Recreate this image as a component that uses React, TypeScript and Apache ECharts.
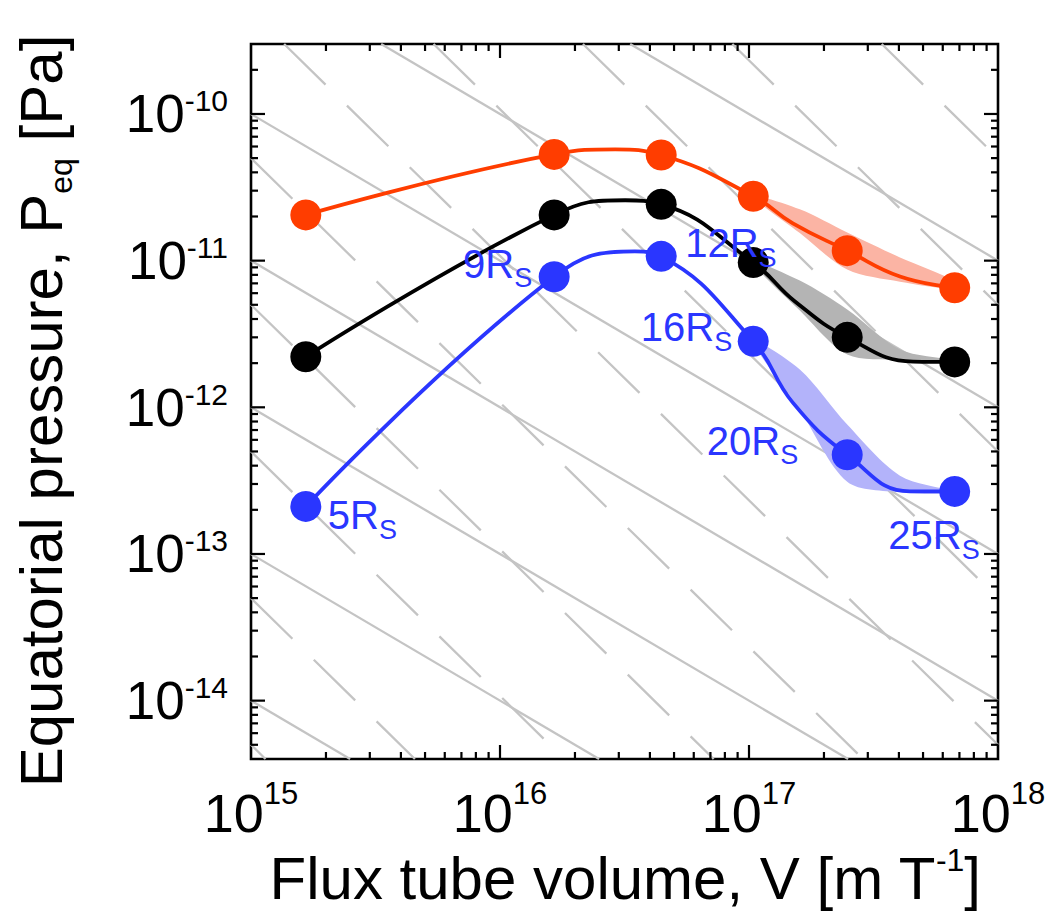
import React, { useEffect, useRef } from 'react';
import * as echarts from 'echarts';

// ---------- axis ranges ----------
const X_MIN = 1e15;
const X_MAX = 1e18;
const Y_MIN = 4e-15;
const Y_MAX = 3e-10;

// ---------- model points (6 radial distances) ----------
const distanceLabels = ['5', '9', '12', '16', '20', '25'];
const volumes = [1.66e15, 1.65e16, 4.44e16, 1.04e17, 2.48e17, 6.7e17];
const pressureRed = [2.05e-11, 5.3e-11, 5.25e-11, 2.75e-11, 1.17e-11, 6.53e-12];
const pressureBlack = [2.21e-12, 2.05e-11, 2.42e-11, 9.7e-12, 3.0e-12, 2.04e-12];
const pressureBlue = [2.11e-13, 7.76e-12, 1.07e-11, 2.82e-12, 4.75e-13, 2.67e-13];

// ---------- curves as drawn (model points plus read-off intermediate points) ----------
const redCurveV = [1.66e15, 1.65e16, 2.9e16, 4.44e16, 1.04e17, 1.5e17, 2.48e17, 4.04e17, 6.7e17];
const redCurveP = [2.05e-11, 5.3e-11, 5.74e-11, 5.25e-11, 2.75e-11, 1.795e-11, 1.17e-11, 7.8e-12, 6.53e-12];
const blackCurveV = [1.66e15, 1.65e16, 3.18e16, 4.44e16, 1.04e17, 1.53e17, 2.48e17, 4.56e17, 6.7e17];
const blackCurveP = [2.21e-12, 2.05e-11, 2.58e-11, 2.42e-11, 9.7e-12, 5.27e-12, 3.0e-12, 2.05e-12, 2.04e-12];
const blueCurveV = [1.66e15, 1.65e16, 3.48e16, 4.44e16, 1.04e17, 1.5e17, 2.48e17, 4.43e17, 6.7e17];
const blueCurveP = [2.11e-13, 7.76e-12, 1.156e-11, 1.07e-11, 2.82e-12, 1.076e-12, 4.75e-13, 2.67e-13, 2.67e-13];

// ---------- shaded ranges ----------
const bandV = [1.04e17, 1.6e17, 2.48e17, 4.04e17, 6.7e17];
const redBandUpper = [2.75e-11, 2.24e-11, 1.557e-11, 1.052e-11, 7.27e-12];
const redBandLower = [2.75e-11, 1.543e-11, 8.7e-12, 7.19e-12, 6.45e-12];
const blackBandUpper = [9.7e-12, 7.31e-12, 4.64e-12, 2.48e-12, 2.08e-12];
const blackBandLower = [9.7e-12, 4.57e-12, 2.29e-12, 2.1e-12, 1.99e-12];
const blueBandUpper = [2.82e-12, 1.81e-12, 7.62e-13, 3.42e-13, 2.66e-13];
const blueBandLower = [2.82e-12, 9.64e-13, 3.11e-13, 2.64e-13, 2.58e-13];

// ---------- background reference lines ----------
// solid: P * V = C ; dashed: P * V^(5/3) = K
const isothermC = [1e1, 1e2, 1e3, 1e4, 1e5, 1e6, 1e7];
const adiabatK = [5e10, 5e11, 5e12, 5e13, 5e14, 5e15, 5e16, 5e17, 5e18, 5e19];
const ADIABAT_SLOPE = 5 / 3;

// ---------- ticks ----------
const xMajorTicks = [1e16, 1e17];
const yMajorTicks = [1e-14, 1e-13, 1e-12, 1e-11, 1e-10];
const xDecades = [1e15, 1e16, 1e17];
const yDecades = [1e-15, 1e-14, 1e-13, 1e-12, 1e-11, 1e-10];
const minorMultipliers = [2, 3, 4, 5, 6, 7, 8, 9];

// ---------- styles ----------
const FONT = '"Liberation Sans", Arial, Helvetica, sans-serif';
const RED = '#ff3d00';
const BLACK = '#000000';
const BLUE = '#2a36ff';
const GRAY = '#c4c4c4';
const RED_BAND = '#fbb4a4';
const BLACK_BAND = '#b4b4b4';
const BLUE_BAND = '#b3b3fa';

const labelPlacement = [
  { align: 'left', offset: [22, 9] },
  { align: 'right', offset: [-22, -13] },
  { align: 'left', offset: [24, -13] },
  { align: 'right', offset: [-21, -14] },
  { align: 'right', offset: [-49, -14] },
  { align: 'right', offset: [25, 44] },
];

function isoline(c: number, slope: number) {
  const lc = Math.log10(c);
  const lx0 = Math.max(Math.log10(X_MIN), (lc - Math.log10(Y_MAX)) / slope);
  const lx1 = Math.min(Math.log10(X_MAX), (lc - Math.log10(Y_MIN)) / slope);
  if (lx1 <= lx0) return null;
  return [
    [Math.pow(10, lx0), Math.pow(10, lc - slope * lx0)],
    [Math.pow(10, lx1), Math.pow(10, lc - slope * lx1)],
  ];
}

function supLabel(v: number) {
  const e = Math.log10(v);
  const r = Math.round(e);
  if (Math.abs(e - r) > 1e-6) return '';
  return `{b|10}{s|${r}}`;
}

function bandSeries(upper: number[], lower: number[], color: string) {
  const rows = bandV.map((v, i) => [v, upper[i], lower[i]]);
  return {
    type: 'custom',
    silent: true,
    z: 2,
    data: rows,
    encode: { x: 0, y: 1 },
    renderItem: (params: any, api: any) => {
      if (params.dataIndex !== 0) return null;
      const pts: number[][] = [];
      for (let i = 0; i < rows.length; i++) pts.push(api.coord([rows[i][0], rows[i][1]]));
      for (let i = rows.length - 1; i >= 1; i--) pts.push(api.coord([rows[i][0], rows[i][2]]));
      return {
        type: 'polygon',
        shape: { points: pts, smooth: 0.3 },
        style: { fill: color },
      };
    },
  };
}

function curveSeries(vs: number[], ps: number[], color: string) {
  return {
    type: 'line',
    silent: true,
    z: 3,
    smooth: 0.45,
    symbol: 'none',
    data: vs.map((v, i) => [v, ps[i]]),
    lineStyle: { color, width: 3.8 },
  };
}

function markerSeries(ps: number[], color: string, withLabels: boolean) {
  return {
    type: 'scatter',
    silent: true,
    z: withLabels ? 5 : 4,
    symbol: 'circle',
    symbolSize: 31,
    itemStyle: { color, opacity: 1 },
    label: withLabels
      ? {
          show: true,
          position: 'inside',
          color: BLUE,
          fontFamily: FONT,
          verticalAlign: 'middle',
          rich: {
            m: { fontSize: 40, lineHeight: 56, fontFamily: FONT, color: BLUE },
            s: { fontSize: 27, verticalAlign: 'bottom', fontFamily: FONT, color: BLUE },
          },
        }
      : { show: false },
    data: volumes.map((v, i) =>
      withLabels
        ? {
            value: [v, ps[i]],
            label: {
              formatter: `{m|${distanceLabels[i]}R}{s|S}`,
              align: labelPlacement[i].align,
              offset: labelPlacement[i].offset,
            },
          }
        : [v, ps[i]]
    ),
  };
}

const Y_REF = 1e-12;
const X_REF = 1e16;

function tickData() {
  const rows: number[][] = [];
  xMajorTicks.forEach((v) => rows.push([v, Y_REF, 0]));
  xDecades.forEach((d) => minorMultipliers.forEach((m) => rows.push([d * m, Y_REF, 1])));
  yMajorTicks.forEach((v) => rows.push([X_REF, v, 2]));
  yDecades.forEach((d) =>
    minorMultipliers.forEach((m) => {
      const v = d * m;
      if (v > Y_MIN * 1.001 && v < Y_MAX * 0.999) rows.push([X_REF, v, 3]);
    })
  );
  return rows;
}

export default function App() {
  const ref = useRef<HTMLDivElement>(null);

  useEffect(() => {
    document.body.style.margin = '0';
    if (!ref.current) return;
    const chart = echarts.init(ref.current, undefined, { renderer: 'svg' });

    const grayLines: any[] = [];
    isothermC.forEach((c) => {
      const d = isoline(c, 1);
      if (d)
        grayLines.push({
          type: 'line',
          silent: true,
          z: 1,
          symbol: 'none',
          data: d,
          lineStyle: { color: GRAY, width: 2.3, type: 'solid' },
        });
    });
    adiabatK.forEach((k) => {
      const d = isoline(k, ADIABAT_SLOPE);
      if (d)
        grayLines.push({
          type: 'line',
          silent: true,
          z: 1,
          symbol: 'none',
          data: d,
          lineStyle: { color: GRAY, width: 2.3, type: [58, 30] },
        });
    });

    const tickStyle = { stroke: '#000', lineWidth: 2.2 };

    const option: any = {
      animation: false,
      grid: {
        left: 251,
        top: 44,
        width: 747,
        height: 715,
        show: true,
        borderColor: '#000',
        borderWidth: 2.6,
        backgroundColor: 'transparent',
      },
      xAxis: {
        type: 'log',
        logBase: 10,
        min: X_MIN,
        max: X_MAX,
        axisLine: { show: false },
        axisTick: { show: false },
        splitLine: { show: false },
        minorTick: { show: false },
        axisLabel: {
          margin: 19,
          color: '#000',
          fontFamily: FONT,
          formatter: (v: number) => supLabel(v),
          rich: {
            b: { fontSize: 54, lineHeight: 70, fontFamily: FONT, color: '#000' },
            s: { fontSize: 31, verticalAlign: 'top', fontFamily: FONT, color: '#000' },
          },
        },
      },
      yAxis: {
        type: 'log',
        logBase: 10,
        min: Y_MIN,
        max: Y_MAX,
        axisLine: { show: false },
        axisTick: { show: false },
        splitLine: { show: false },
        minorTick: { show: false },
        axisLabel: {
          margin: 23,
          color: '#000',
          fontFamily: FONT,
          formatter: (v: number) => supLabel(v),
          rich: {
            b: { fontSize: 53, lineHeight: 56, fontFamily: FONT, color: '#000' },
            s: { fontSize: 30, verticalAlign: 'top', fontFamily: FONT, color: '#000' },
          },
        },
      },
      graphic: [
        {
          type: 'text',
          x: 625,
          y: 878,
          silent: true,
          style: {
            text: 'Flux tube volume, V [m T{sup|-1}]',
            fontSize: 60,
            fontFamily: FONT,
            lineHeight: 68,
            fill: '#000',
            align: 'center',
            verticalAlign: 'middle',
            rich: {
              sup: { fontSize: 32, verticalAlign: 'top', fontFamily: FONT, fill: '#000' },
            },
          },
        },
        {
          type: 'text',
          x: 41,
          y: 411,
          rotation: Math.PI / 2,
          silent: true,
          style: {
            text: 'Equatorial pressure, P{sub|eq} [Pa]',
            fontSize: 60,
            fontFamily: FONT,
            lineHeight: 72,
            fill: '#000',
            align: 'center',
            verticalAlign: 'middle',
            rich: {
              sub: { fontSize: 32, verticalAlign: 'bottom', fontFamily: FONT, fill: '#000' },
            },
          },
        },
      ],
      series: [
        ...grayLines,
        bandSeries(redBandUpper, redBandLower, RED_BAND),
        bandSeries(blackBandUpper, blackBandLower, BLACK_BAND),
        bandSeries(blueBandUpper, blueBandLower, BLUE_BAND),
        curveSeries(redCurveV, redCurveP, RED),
        curveSeries(blackCurveV, blackCurveP, BLACK),
        curveSeries(blueCurveV, blueCurveP, BLUE),
        markerSeries(pressureRed, RED, false),
        markerSeries(pressureBlack, BLACK, false),
        markerSeries(pressureBlue, BLUE, true),
        {
          type: 'custom',
          silent: true,
          z: 10,
          data: tickData(),
          encode: { x: 0, y: 1 },
          renderItem: (params: any, api: any) => {
            const cs = params.coordSys;
            const kind = api.value(2);
            const left = cs.x;
            const right = cs.x + cs.width;
            const top = cs.y;
            const bottom = cs.y + cs.height;
            if (kind < 2) {
              const px = api.coord([api.value(0), Y_REF])[0];
              const len = kind === 0 ? 14 : 7;
              return {
                type: 'group',
                children: [
                  { type: 'line', shape: { x1: px, y1: bottom, x2: px, y2: bottom - len }, style: tickStyle },
                  { type: 'line', shape: { x1: px, y1: top, x2: px, y2: top + len }, style: tickStyle },
                ],
              };
            }
            const py = api.coord([X_REF, api.value(1)])[1];
            const len = kind === 2 ? 14 : 7;
            return {
              type: 'group',
              children: [
                { type: 'line', shape: { x1: left, y1: py, x2: left + len, y2: py }, style: tickStyle },
                { type: 'line', shape: { x1: right, y1: py, x2: right - len, y2: py }, style: tickStyle },
              ],
            };
          },
        },
      ],
    };

    chart.setOption(option);
    return () => chart.dispose();
  }, []);

  return <div ref={ref} style={{ width: 1058, height: 914 }} />;
}
